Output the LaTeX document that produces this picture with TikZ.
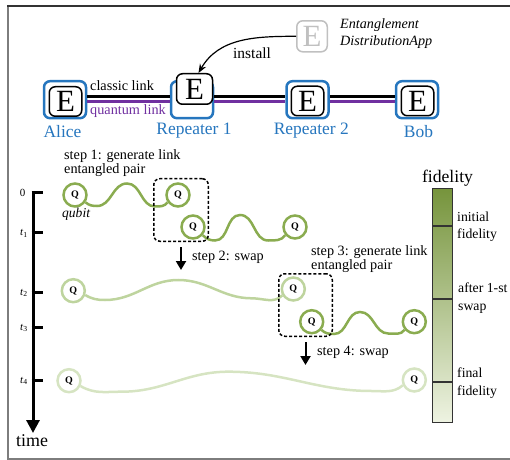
\documentclass[tikz,border=0pt]{standalone}
\usepackage{fontspec}
\setmainfont{Liberation Serif}
\usetikzlibrary{arrows.meta}
\definecolor{hostblue}{RGB}{38,118,190}
\definecolor{linkpurple}{RGB}{112,48,160}
\definecolor{qgreen}{RGB}{138,172,80}
\definecolor{qlight}{RGB}{190,212,158}
\definecolor{qpale}{RGB}{214,228,194}
\definecolor{appgray}{RGB}{192,192,192}
\definecolor{fidtop}{RGB}{118,148,60}
\definecolor{fidbot}{RGB}{238,243,226}
\definecolor{framedark}{RGB}{50,50,50}
\definecolor{framegray}{RGB}{125,125,125}
\newcommand{\fsz}[1]{\fontsize{#1}{#1}\selectfont}
\begin{document}
\begin{tikzpicture}[x=1bp,y=-1bp,
  hostbox/.style={draw=hostblue, line width=2.5bp, rounded corners=6bp, minimum width=42bp, minimum height=37bp, inner sep=0pt},
  ebox/.style={draw=black, fill=white, line width=1.5bp, rounded corners=6bp, minimum width=32.5bp, minimum height=29.5bp, inner sep=0pt, font=\fsz{31}},
  appbox/.style={draw=appgray, text=appgray, fill=white, line width=1.5bp, rounded corners=6bp, minimum width=30.5bp, minimum height=31bp, inner sep=0pt, font=\fsz{31}},
  hostlabel/.style={text=hostblue, font=\fsz{17.5}, anchor=base, inner sep=0pt},
  classicline/.style={draw=black, line width=2.5bp},
  quantumline/.style={draw=linkpurple, line width=2.5bp},
  txt/.style={font=\fsz{14.3}, anchor=base west, inner sep=0pt},
  itxt/.style={font=\fsz{14.2}\itshape, anchor=base west, inner sep=0pt},
  sidetxt/.style={font=\fsz{13.8}, anchor=base west, inner sep=0pt},
  qbit/.style={circle, draw=#1, line width=2.5bp, minimum size=23bp, inner sep=0pt, fill=white, font=\fsz{10}\bfseries},
  wave/.style={draw=#1, line width=2.5bp},
  dashbox/.style={draw=black, dashed, dash pattern=on 3bp off 2bp, line width=1.5bp, rounded corners=6bp, inner sep=0pt},
  steparrow/.style={line width=2bp, -{Triangle[width=10bp,length=9bp]}},
  tickmark/.style={line width=3bp},
  ticklabel/.style={font=\fsz{11}, anchor=base east, inner sep=0pt}
]
\useasboundingbox (0,0) rectangle (510,460);
% frame
\draw[framegray, line width=2bp] (8,5) -- (8,460);
\draw[framedark, line width=2bp] (7,6) -- (510,6);
\draw[framegray, line width=2bp] (7,459) -- (510,459);

% hosts
\node[hostbox] (aliceb) at (65,99.7) {};
\node[hostbox] (rep1b) at (192,99.7) {};
\node[hostbox] (rep2b) at (307.5,99.7) {};
\node[hostbox] (bobb) at (417,99.7) {};

\draw[classicline] ([yshift=3.2bp]aliceb.east) -- ([yshift=3.2bp]rep1b.west);
\draw[quantumline] ([yshift=-1.8bp]aliceb.east) -- ([yshift=-1.8bp]rep1b.west);
\draw[classicline] ([yshift=3.2bp]rep1b.east) -- ([yshift=3.2bp]rep2b.west);
\draw[quantumline] ([yshift=-1.8bp]rep1b.east) -- ([yshift=-1.8bp]rep2b.west);
\draw[classicline] ([yshift=3.2bp]rep2b.east) -- ([yshift=3.2bp]bobb.west);
\draw[quantumline] ([yshift=-1.8bp]rep2b.east) -- ([yshift=-1.8bp]bobb.west);

\node[ebox] (alicee) at (65.5,101.5) {E};
\node[ebox, minimum width=36bp, minimum height=30.5bp] (rep1e) at (194.5,89) {E};
\node[ebox] (rep2e) at (307.5,101) {E};
\node[ebox] (bobe) at (417.5,101) {E};

\node[hostlabel] (alicel) at (62.5,137.7) {Alice};
\node[hostlabel] (rep1l) at (194,135) {Repeater 1};
\node[hostlabel] (rep2l) at (311.3,135) {Repeater 2};
\node[hostlabel] (bobl) at (418.5,137.7) {Bob};

\node[txt] (classictxt) at (90,90.7) {classic link};
\node[txt, text=linkpurple] (quantumtxt) at (90,115) {quantum link};

% app
\node[appbox] (app) at (312,36.3) {E};
\node[itxt] (apptxt1) at (340,28.3) {Entanglement};
\node[itxt] (apptxt2) at (340,46) {DistributionApp};
\draw[line width=1.2bp, -{Stealth[length=9bp,width=7bp]}] (app.west) to[out=180,in=60] ([xshift=4bp]rep1e.north);
\node[font=\fsz{15.5}, anchor=base west, inner sep=0pt] (installtxt) at (233,58.3) {install};

% time axis
\coordinate (ttop) at (33,191.5);
\coordinate (tbot) at (33,433);
\draw[line width=3bp, -{Triangle[width=13bp,length=13bp]}] (ttop) -- (tbot);
\foreach \nm/\yy in {k0/193,k1/233,k2/292,k3/327,k4/380}{
  \coordinate (\nm a) at (31.5,\yy);
  \coordinate (\nm b) at (43,\yy);
  \draw[tickmark] (\nm a) -- (\nm b);
}
\node[ticklabel, anchor=base] (l0) at (22.5,196.7) {0};
\node[ticklabel] (l1) at (28,236) {\textit{t}\textsubscript{1}};
\node[ticklabel] (l2) at (28,295) {\textit{t}\textsubscript{2}};
\node[ticklabel] (l3) at (28,330) {\textit{t}\textsubscript{3}};
\node[ticklabel] (l4) at (28,383) {\textit{t}\textsubscript{4}};
\node[font=\fsz{18}, anchor=base west, inner sep=0pt] (timetxt) at (16,446.7) {time};

% qubits
\node[qbit=qgreen] (q1) at (75,195) {Q};
\node[qbit=qgreen] (q2) at (178,195) {Q};
\node[qbit=qgreen] (q3) at (193,227) {Q};
\node[qbit=qgreen] (q4) at (295,227) {Q};
\node[qbit=qlight] (q5) at (73.3,290.7) {Q};
\node[qbit=qlight] (q6) at (293.3,289) {Q};
\node[qbit=qgreen] (q7) at (311.7,321.7) {Q};
\node[qbit=qgreen] (q8) at (414.3,321.7) {Q};
\node[qbit=qpale] (q9) at (69,380.7) {Q};
\node[qbit=qpale] (q10) at (414.3,380) {Q};

\draw[wave=qgreen] (q1.-35) to[out=-40,in=180] (97,206) to[out=0,in=180] (127,183.5) to[out=0,in=180] (155,206.5) to[out=0,in=-125] (q2.-145);
\draw[wave=qgreen] (q3.-40) to[out=-45,in=180] (215,240.5) to[out=0,in=180] (240,215) to[out=0,in=180] (268.3,240.5) to[out=0,in=-125] (q4.-140);
\draw[wave=qlight] (q5.-20) to[out=-30,in=180] (105,300) to[out=0,in=180] (178.3,280) to[out=0,in=180] (251.7,298.3) to[out=0,in=-135] (q6.-150);
\draw[wave=qgreen] (q7.-40) to[out=-45,in=180] (334,334) to[out=0,in=180] (360,312) to[out=0,in=180] (388.3,333.5) to[out=0,in=-125] (q8.-140);
\draw[wave=qpale] (q9.-25) to[out=-30,in=180] (121.7,391.7) to[out=0,in=180] (228.3,371.7) to[out=0,in=180] (371.7,391) to[out=0,in=-140] (q10.-155);

\node[itxt, font=\fsz{13.6}\itshape] (qubittxt) at (62,218) {qubit};

% swaps
\node[dashbox, minimum width=54.5bp, minimum height=62.5bp] (swap1) at (181,210) {};
\node[dashbox, minimum width=53.5bp, minimum height=62.5bp] (swap2) at (305.5,305) {};
\draw[steparrow] ([yshift=-5bp]swap1.south) -- ++(0,23);
\draw[steparrow] ([yshift=-5bp]swap2.south) -- ++(0,23);

\node[txt] (s1a) at (64,160) {step 1: generate link};
\node[txt] (s1b) at (64,174) {entangled pair};
\node[txt] (s2) at (192,260.7) {step 2: swap};
\node[txt] (s3a) at (311,255) {step 3: generate link};
\node[txt] (s3b) at (311,269.3) {entangled pair};
\node[txt] (s4) at (317,355.7) {step 4: swap};

% fidelity bar
\node[draw=black!80, line width=1.2bp, top color=fidtop, bottom color=fidbot, minimum width=19.8bp, minimum height=233.8bp, inner sep=0pt] (bar) at (442.5,305.5) {};
\coordinate (d1) at (0,226);
\coordinate (d2) at (0,299);
\coordinate (d3) at (0,382);
\draw[black!80, line width=1.2bp] (bar.west |- d1) -- (bar.east |- d1);
\draw[black!80, line width=1.2bp] (bar.west |- d2) -- (bar.east |- d2);
\draw[black!80, line width=1.2bp] (bar.west |- d3) -- (bar.east |- d3);
\node[font=\fsz{17.7}, anchor=base, inner sep=0pt] (fidhead) at (447.5,183) {fidelity};
\node[sidetxt] (f1a) at (457,221.7) {initial};
\node[sidetxt] (f1b) at (457,239) {fidelity};
\node[sidetxt] (f2a) at (458,292.7) {after 1-st};
\node[sidetxt] (f2b) at (458,310) {swap};
\node[sidetxt] (f3a) at (457,377.7) {final};
\node[sidetxt] (f3b) at (457,395) {fidelity};
\end{tikzpicture}
\end{document}
